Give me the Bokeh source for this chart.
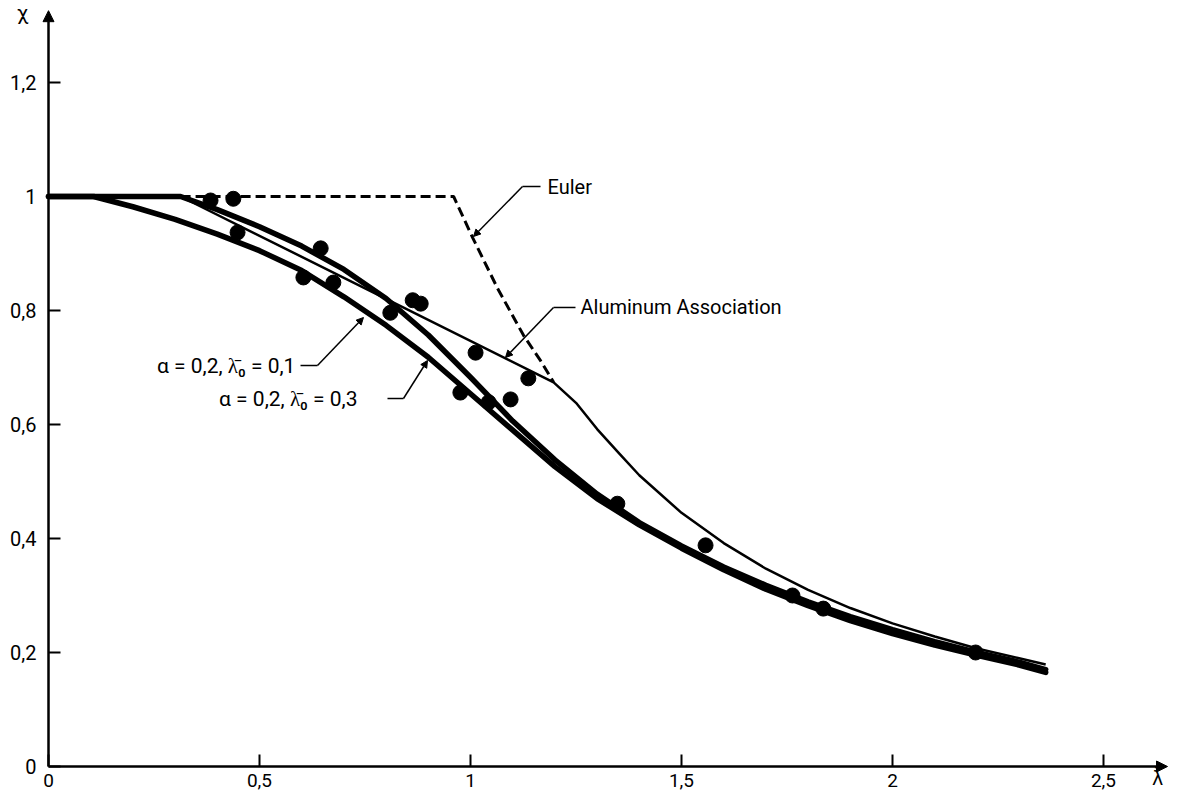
from bokeh.plotting import figure
from bokeh.models import Range1d, FixedTicker, Arrow, NormalHead
from bokeh.core.properties import value
from bokeh.embed import file_html
from bokeh.resources import INLINE

# ---------------- data ----------------
x_ticks = [0, 0.5, 1, 1.5, 2, 2.5]
x_tick_labels = ["0", "0,5", "1", "1,5", "2", "2,5"]
y_ticks = [0, 0.2, 0.4, 0.6, 0.8, 1, 1.2]
y_tick_labels = ["0", "0,2", "0,4", "0,6", "0,8", "1", "1,2"]

# alpha = 0.2, lambda0 = 0.1 (thick, lower)
c01_lam = [0, 0.107, 0.2, 0.3, 0.4, 0.5, 0.6, 0.7, 0.8, 0.9, 1.0, 1.1, 1.2,
           1.3, 1.4, 1.5, 1.6, 1.7, 1.8, 1.9, 2.0, 2.1, 2.2, 2.3, 2.363]
c01_chi = [1.0, 1.0, 0.982, 0.960, 0.934, 0.905, 0.870, 0.824, 0.774, 0.718,
           0.654, 0.590, 0.526, 0.470, 0.424, 0.383, 0.345, 0.311, 0.282,
           0.256, 0.233, 0.213, 0.195, 0.178, 0.165]

# alpha = 0.2, lambda0 = 0.3 (thick, upper)
c03_lam = [0, 0.313, 0.4, 0.5, 0.6, 0.7, 0.8, 0.9, 1.0, 1.1, 1.2, 1.3, 1.4,
           1.5, 1.6, 1.7, 1.8, 1.9, 2.0, 2.1, 2.2, 2.3, 2.363]
c03_chi = [1.0, 1.0, 0.977, 0.947, 0.913, 0.872, 0.821, 0.757, 0.683, 0.606,
           0.538, 0.478, 0.428, 0.387, 0.350, 0.318, 0.289, 0.263, 0.240,
           0.219, 0.200, 0.183, 0.170]

# Aluminum Association (thin)
aa_lam = [0, 0.313, 1.197, 1.25, 1.3, 1.35, 1.4, 1.5, 1.6, 1.7, 1.8, 1.9,
          2.0, 2.1, 2.2, 2.3, 2.363]
aa_chi = [1.0, 1.0, 0.674, 0.638, 0.592, 0.551, 0.511, 0.445, 0.392, 0.347,
          0.310, 0.278, 0.251, 0.228, 0.207, 0.190, 0.179]

# Euler (dashed)
eu_lam = [0.313, 0.960, 1.005, 1.064, 1.126, 1.166, 1.197]
eu_chi = [1.0, 1.0, 0.928, 0.839, 0.756, 0.712, 0.674]

# test results (dots)
pt_lam = [0.384, 0.438, 0.448, 0.604, 0.645, 0.675, 0.810, 0.863, 0.882, 0.976,
          1.012, 1.043, 1.095, 1.137, 1.348, 1.557, 1.763, 1.836, 2.197]
pt_chi = [0.993, 0.996, 0.937, 0.858, 0.909, 0.849, 0.796, 0.818, 0.812, 0.656,
          0.726, 0.639, 0.644, 0.681, 0.461, 0.388, 0.300, 0.277, 0.200]

label_texts = ["Euler", "Aluminum Association",
               "\u03b1 = 0,2, \u03bb\u0304\u2080 = 0,1",
               "\u03b1 = 0,2, \u03bb\u0304\u2080 = 0,3"]
x_title = "\u03bb\u0304"
y_title = "\u03c7"

FONT = "Roboto"

# ---------------- figure ----------------
W, H = 1176, 792
p = figure(width=W, height=H,
           x_range=Range1d(-48 / 422, (W - 48) / 422),
           y_range=Range1d(-(H - 766) / 570, 766 / 570),
           output_backend="svg", toolbar_location=None,
           min_border_left=0, min_border_right=0,
           min_border_top=0, min_border_bottom=0)
p.outline_line_color = None
p.grid.visible = False
p.background_fill_color = "white"
p.border_fill_color = "white"

xa = p.xaxis[0]
xa.fixed_location = 0
xa.ticker = FixedTicker(ticks=x_ticks)
xa.major_label_overrides = {t: l for t, l in zip(x_ticks, x_tick_labels)}
xa.axis_line_color = None
xa.major_tick_in = 12
xa.major_tick_out = 0
xa.major_tick_line_width = 2
xa.major_tick_line_color = "black"
xa.minor_tick_line_color = None
xa.major_label_text_font = FONT
xa.major_label_text_font_size = "19px"
xa.major_label_text_color = "black"
xa.major_label_standoff = 7

ya = p.yaxis[0]
ya.fixed_location = 0
ya.ticker = FixedTicker(ticks=y_ticks)
ya.major_label_overrides = {t: l for t, l in zip(y_ticks, y_tick_labels)}
ya.axis_line_color = None
ya.major_tick_in = 12
ya.major_tick_out = 0
ya.major_tick_line_width = 2
ya.major_tick_line_color = "black"
ya.minor_tick_line_color = None
ya.major_label_text_font = FONT
ya.major_label_text_font_size = "20px"
ya.major_label_text_color = "black"
ya.major_label_standoff = 12

# axis lines with arrows
p.add_layout(Arrow(end=NormalHead(size=11, fill_color="black", line_color="black"),
                   x_start=0, y_start=0, x_end=0, y_end=1.326,
                   line_width=2.5, line_color="black"))
p.add_layout(Arrow(end=NormalHead(size=11, fill_color="black", line_color="black"),
                   x_start=0, y_start=0, x_end=2.6517, y_end=0,
                   line_width=2.5, line_color="black"))

# curves
p.line(eu_lam, eu_chi, line_width=3, line_color="black", line_dash="10 5")
p.line(aa_lam, aa_chi, line_width=2.5, line_color="black", line_join="round")
p.line(c03_lam, c03_chi, line_width=5.5, line_color="black", line_join="round", line_cap="round")
p.line(c01_lam, c01_chi, line_width=5.5, line_color="black", line_join="round", line_cap="round")
p.scatter(pt_lam, pt_chi, size=15, fill_color="black", line_color="black")

# leader lines
leaders = [
    ([1.1659, 1.1232], [1.0175, 1.0175], (1.1232, 1.0175, 1.0071, 0.9298)),
    ([1.2488, 1.1967], [0.8053, 0.8053], (1.1967, 0.8053, 1.0829, 0.7175)),
    ([0.5972, 0.6374], [0.7035, 0.7035], (0.6374, 0.7035, 0.7464, 0.7877)),
    ([0.8033, 0.8412], [0.6456, 0.6456], (0.8412, 0.6456, 0.8981, 0.7123)),
]
for xs, ys, (x0, y0, x1, y1) in leaders:
    p.line(xs, ys, line_width=1.5, line_color="black")
    p.add_layout(Arrow(end=NormalHead(size=7, fill_color="black", line_color="black"),
                       x_start=x0, y_start=y0, x_end=x1, y_end=y1,
                       line_width=1.5, line_color="black"))

# annotation texts
p.text(x=[1.1825, 1.2607], y=[1.0175, 0.8053], text=label_texts[:2],
       text_font=value(FONT), text_font_size="20px", text_color="black",
       text_align="left", text_baseline="middle")
p.text(x=[0.5850, 0.7322], y=[0.7035, 0.6456], text=label_texts[2:],
       text_font=value(FONT), text_font_size="21px", text_color="black",
       text_align="right", text_baseline="middle")

# axis titles
p.text(x=[2.628], y=[-0.021], text=[x_title], text_font=value("DejaVu Sans"),
       text_font_size="19px", text_color="black",
       text_align="center", text_baseline="middle")
p.text(x=[-0.0616], y=[1.3228], text=[y_title], text_font=value(FONT),
       text_font_size="21px", text_color="black",
       text_align="center", text_baseline="middle")

open("out.html", "w").write(file_html(p, INLINE))
